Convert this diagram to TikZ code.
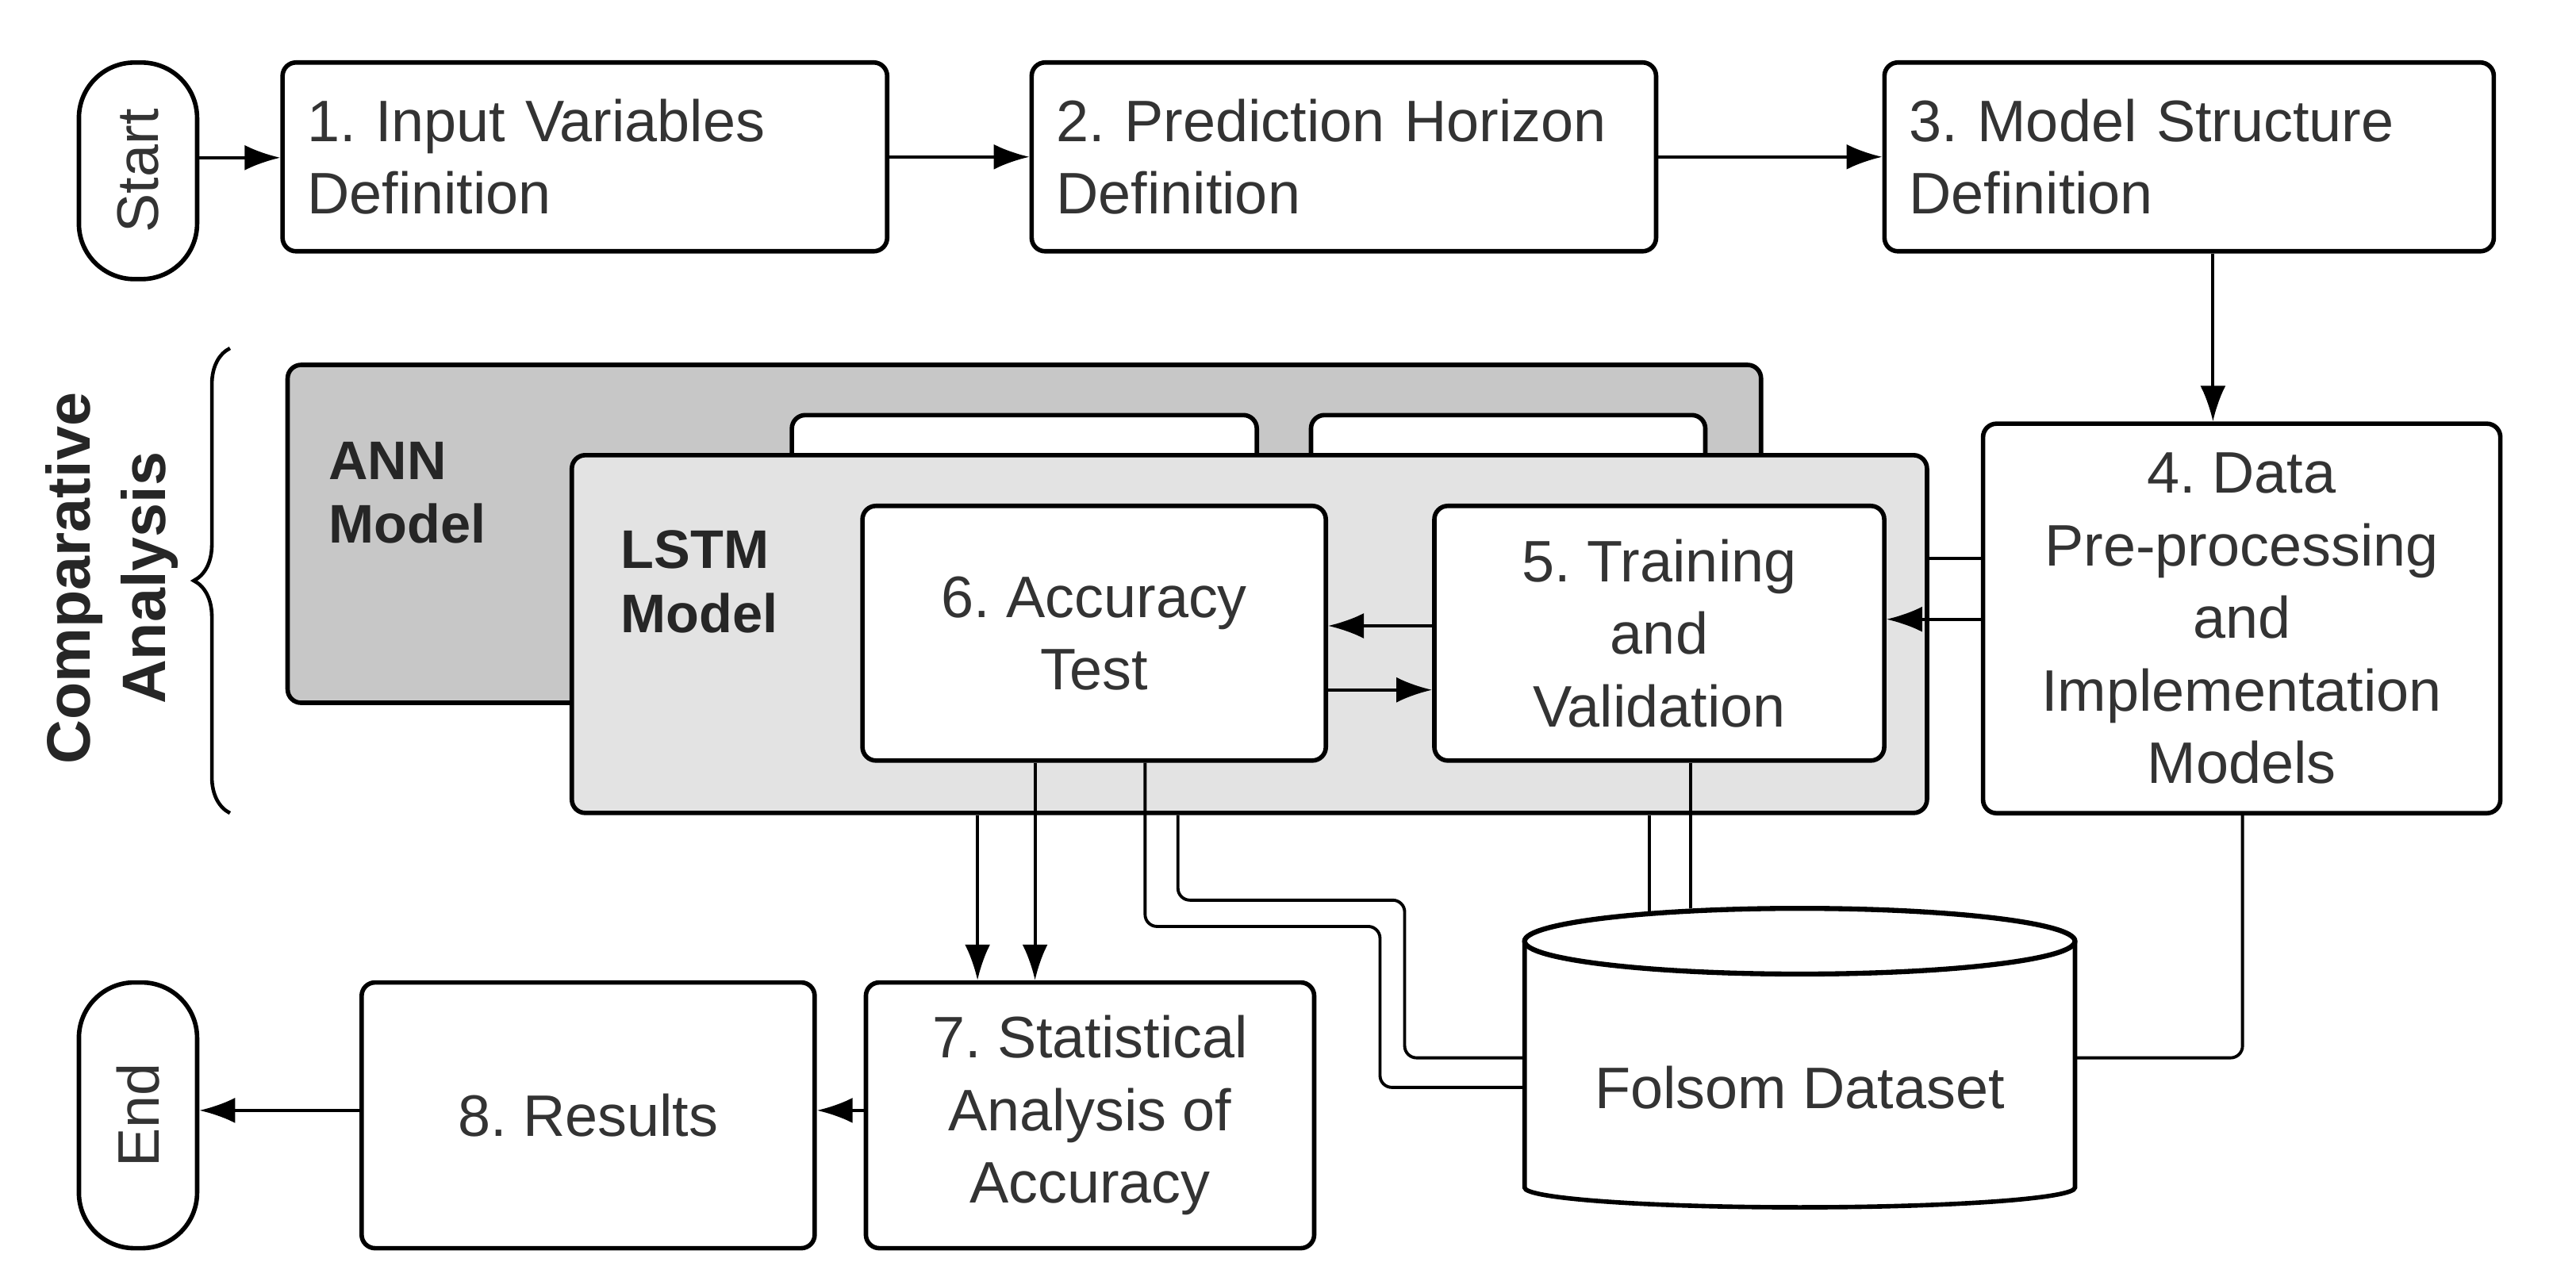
\documentclass[tikz,border=0pt]{standalone}
\usepackage{fontspec}
\setmainfont{Liberation Sans}
\usetikzlibrary{arrows.meta,decorations.pathreplacing}
\begin{document}
\frenchspacing
\begin{tikzpicture}[x=0.0207cm,y=-0.0207cm,
  box/.style={draw=black,line width=1.6pt,rounded corners=0.17cm,fill=white,text=black!80,font=\fontsize{21}{26}\selectfont,align=center,inner sep=0pt},
  pill/.style={box,rounded corners=0.7cm},
  lbl/.style={font=\fontsize{19.5}{23}\selectfont\bfseries,text=black!85,align=left,anchor=west},
  arr/.style={line width=1.1pt,-{Latex[length=0.45cm,width=0.32cm]}},
  ln/.style={line width=1.1pt,rounded corners=0.15cm}]
\useasboundingbox (0,0) rectangle (1568,782);
% top row
\node[pill,minimum width=1.49cm,minimum height=2.73cm] (start) at (84,104) {\rotatebox{90}{Start}};
\node[box,minimum width=7.62cm,minimum height=2.38cm,text width=7.0cm,align=left] (b1) at (356,95.5) {1. Input Variables\\Definition};
\node[box,minimum width=7.87cm,minimum height=2.38cm,text width=7.25cm,align=left] (b2) at (818,95.5) {2. Prediction Horizon\\Definition};
\node[box,minimum width=7.68cm,minimum height=2.38cm,text width=7.06cm,align=left] (b3) at (1332.5,95.5) {3. Model Structure\\Definition};
\draw[arr] (start.east |- 0,96) -- (b1.west |- 0,96);
\draw[arr] (b1) -- (b2);
\draw[arr] (b2) -- (b3);
% ANN layer
\node[box,fill=black!22,minimum width=18.57cm,minimum height=4.26cm] (ann) at (623.5,325) {};
\node[box,minimum width=5.86cm,minimum height=2.0cm] (annA) at (623.5,301) {};
\node[box,minimum width=4.97cm,minimum height=2.0cm] (annB) at (918,301) {};
\node[lbl] (annl) at (194,300) {ANN\\Model};
% LSTM layer
\node[box,fill=black!11,minimum width=17.08cm,minimum height=4.51cm] (lstm) at (760.5,386) {};
\node[lbl] (lstml) at (372,354) {LSTM\\Model};
\node[box,minimum width=5.84cm,minimum height=3.21cm] (b6) at (666,385.5) {6. Accuracy\\Test};
\node[box,minimum width=5.67cm,minimum height=3.21cm] (b5) at (1010,385.5) {5. Training\\and\\Validation};
\node[box,minimum width=6.52cm,minimum height=4.91cm] (b4) at (1364.5,376.5) {4. Data\\Pre-processing\\and\\Implementation\\Models};
\draw[arr] (b3.south -| 1347,0) -- (b4.north -| 1347,0);
\draw[line width=1.1pt] (b4.west |- 0,340) -- (lstm.east |- 0,340);
\draw[arr] (b4.west |- 0,377) -- (b5.east |- 0,377);
\draw[arr] (b5.west |- 0,381) -- (b6.east |- 0,381);
\draw[arr] (b6.east |- 0,420) -- (b5.west |- 0,420);
% brace
\draw[line width=1.3pt,decorate,decoration={brace,amplitude=13pt}] (140,495) -- (140,212);
\node[font=\fontsize{22}{27}\selectfont\bfseries,text=black!85,rotate=90,align=center] (comp) at (68,352) {Comparative\\Analysis};
% bottom row
\node[box,minimum width=5.65cm,minimum height=3.35cm] (b7) at (663.5,679) {7. Statistical\\Analysis of\\Accuracy};
\node[box,minimum width=5.71cm,minimum height=3.35cm] (b8) at (358,679) {8. Results};
\node[pill,minimum width=1.49cm,minimum height=3.35cm] (end) at (84,679) {\rotatebox{90}{End}};
\draw[arr] (b7.west |- 0,676) -- (b8.east |- 0,676);
\draw[arr] (b8.west |- 0,676) -- (end.east |- 0,676);
\draw[arr] (lstm.south -| 595,0) -- (b7.north -| 595,0);
\draw[arr] (b6.south -| 630,0) -- (b7.north -| 630,0);
% dataset cylinder
\coordinate (cl) at (928,573);
\coordinate (cr) at (1263,573);
\draw[line width=1.6pt,fill=white] (cl) -- (928,723) arc[start angle=180,end angle=360,x radius=167.5,y radius=-12] -- (cr);
\draw[line width=1.8pt,fill=white] (1095.5,573) ellipse[x radius=167.5,y radius=-20];
\node[font=\fontsize{21}{26}\selectfont,text=black!80] (ds) at (1095.5,662) {Folsom Dataset};
% connectors to dataset
\draw[ln] (b6.south -| 697,0) -- (697,564) -- (840,564) -- (840,662) -- (cl |- 0,662);
\draw[ln] (lstm.south -| 717,0) -- (717,548) -- (855,548) -- (855,644) -- (cl |- 0,644);
\draw[line width=1.1pt] (b5.south -| 1029,0) -- (1029,553);
\draw[line width=1.1pt] (lstm.south -| 1004,0) -- (1004,555);
\draw[ln] (b4.south -| 1365,0) -- (1365,644) -- (cr |- 0,644);
\end{tikzpicture}
\end{document}
